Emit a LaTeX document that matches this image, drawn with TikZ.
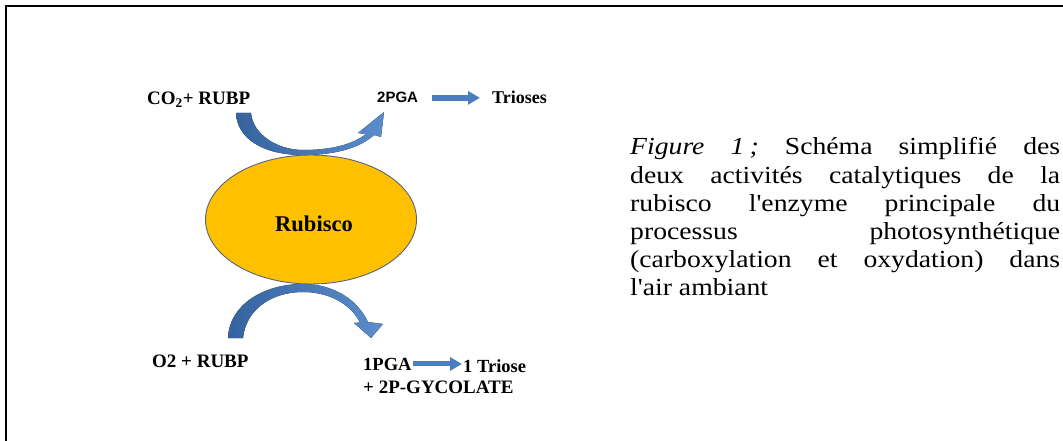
\documentclass[tikz,border=0pt]{standalone}
\usepackage{fontspec}
\setmainfont{Liberation Serif}
\newfontfamily\capfont{Liberation Serif}[FakeStretch=1.13]
\newfontfamily\lsans{Liberation Sans}
\usetikzlibrary{arrows.meta,shapes.geometric}
\definecolor{gold}{HTML}{FFC000}
\definecolor{ellline}{HTML}{5A6478}
\definecolor{bluedark}{HTML}{3563A0}
\definecolor{bluelight}{HTML}{5B8DCC}
\definecolor{blockblue}{HTML}{4A7EBE}
\begin{document}
\begin{tikzpicture}[x=1pt,y=-1pt,
  lbl/.style={inner sep=0pt, font=\fontsize{19}{22}\selectfont\bfseries},
  lblsm/.style={inner sep=0pt, font=\fontsize{18.5}{22}\selectfont\bfseries},
  captxt/.style={inner sep=0pt, anchor=base west, font=\capfont\fontsize{24.5}{28}\selectfont},
  curvearrow/.style={left color=bluedark, right color=bluelight, draw=none},
  blk/.style={draw=blockblue, line width=#1, -{Triangle[width=13pt,length=12pt]}},
  blk/.default=5.5pt
]
\useasboundingbox (0,0) rectangle (1063,441);
% frame
\draw[line width=2pt] (6,441) -- (6,6) -- (1063,6);

% ellipse
\node[ellipse, draw=ellline, line width=0.9pt, fill=gold, minimum width=211pt, minimum height=129pt, inner sep=0pt] (rub) at (311,219.5) {};
\node[inner sep=0pt, anchor=base, font=\fontsize{22.5}{26}\selectfont\bfseries] (rubtxt) at (314,231) {Rubisco};

% top labels
\node[lbl, anchor=base west] (co2) at (147,105) {CO\textsubscript{2}+ RUBP};
\node[inner sep=0pt, anchor=base west, font=\lsans\fontsize{15}{18}\selectfont\bfseries] (pga) at (377,103) {2PGA};
\node[lblsm, anchor=base west, font=\fontsize{18}{22}\selectfont\bfseries] (trio) at (492,104) {Trioses};

% bottom labels
\node[lbl, anchor=base west] (o2) at (152,367) {O2 + RUBP};
\node[lblsm, anchor=base west] (pga1) at (363,370) {1PGA};
\node[lblsm, anchor=base west] (tri1) at (463,372) {1 Triose};
\node[lblsm, anchor=base west, font=\fontsize{19}{22}\selectfont\bfseries] (glyco) at (363,393) {+ 2P-GYCOLATE};

% small block arrows
\draw[blk=6pt] ([xshift=14pt]pga.east) -- ([xshift=-12pt]pga.east -| trio.west);
\draw[blk=5pt] ([xshift=1pt]pga1.east) -- ([xshift=-1pt]pga1.east -| tri1.west);

% top curved arrow (CO2 + RUBP -> 2PGA)
\fill[curvearrow] (236,113) .. controls (237,138) and (262,155) .. (303,155)
  .. controls (335,155) and (360,148) .. (374,135)
  -- (381,137) -- (384,112) -- (358,133) -- (366,134)
  .. controls (352,145) and (330,150) .. (303,150)
  .. controls (278,150) and (253,135) .. (251,113) -- cycle;

% bottom curved arrow (O2 + RUBP -> 1PGA)
\fill[curvearrow] (228,338) .. controls (229,306) and (262,284) .. (303,284)
  .. controls (333,284) and (357,299) .. (368,322)
  -- (383,324) -- (371,338) -- (354,323) -- (360,322.5)
  .. controls (350,303) and (328,292) .. (303,292)
  .. controls (272,292) and (246,309) .. (243,338) -- cycle;

% caption
\node[captxt] (cap1) at (630,155) {\hbox to 430pt{\textit{Figure}\hfill\textit{1\kern5pt;}\hfill Schéma\hfill simplifié\hfill des}};
\node[captxt] (cap2) at (630,183) {\hbox to 430pt{deux\hfill activités\hfill catalytiques\hfill de\hfill la}};
\node[captxt] (cap3) at (630,211) {\hbox to 430pt{rubisco\hfill l'enzyme\hfill principale\hfill du}};
\node[captxt] (cap4) at (630,239) {\hbox to 430pt{processus\hfill photosynthétique}};
\node[captxt] (cap5) at (630,267) {\hbox to 430pt{(carboxylation\hfill et\hfill oxydation)\hfill dans}};
\node[captxt] (cap6) at (630,295) {l'air ambiant};
\end{tikzpicture}
\end{document}
